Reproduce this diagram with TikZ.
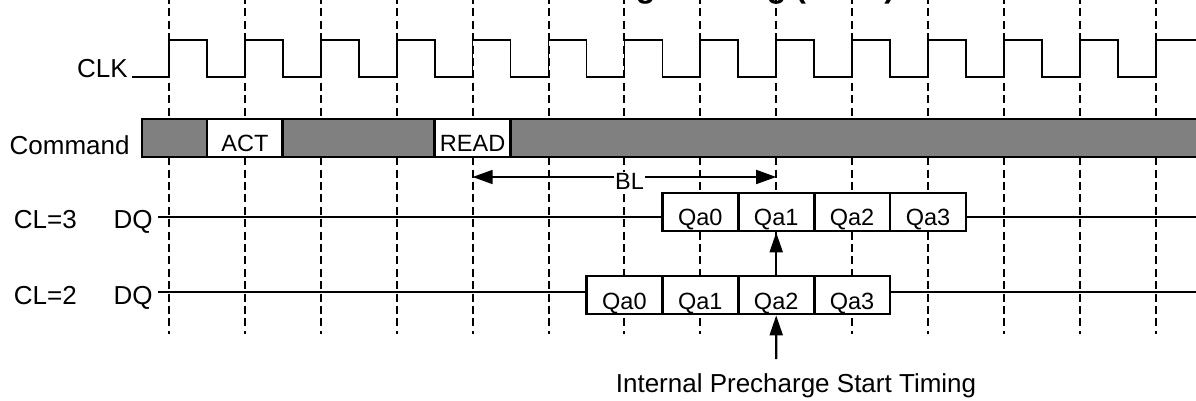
\documentclass[tikz,border=0pt]{standalone}
\usepackage{fontspec}
\setmainfont{Liberation Sans}
\usepackage{tikz}
\usetikzlibrary{arrows.meta, positioning, calc}
\definecolor{cmdgray}{RGB}{128, 128, 128}
\newcommand{\sigfont}{\fontsize{13}{15}\selectfont}
\newcommand{\boxfont}{\fontsize{11.75}{14}\selectfont}
\newcommand{\ttlfont}{\fontsize{16}{19}\selectfont\bfseries}

\begin{document}
\begin{tikzpicture}[
    x=0.5pt, y=-0.5pt,
    guide/.style={line width=1pt, dash pattern=on 4pt off 2.2pt},
    wave/.style={line width=0.85pt},
    busline/.style={line width=1pt},
    slot/.style={rectangle, draw, line width=1.4pt, fill=white, minimum width=37.95pt,
      minimum height=19pt, inner xsep=0pt, inner ysep=1pt, text height=15.5pt,
      text depth=1.5pt, font=\boxfont},
    sigtext/.style={inner sep=0pt, font=\sigfont},
    pointer/.style={-{Triangle[length=10pt, width=6.5pt]}, line width=1.1pt},
    spanline/.style={{Triangle[length=10pt, width=7pt]}-{Triangle[length=10pt, width=7pt]},
      line width=0.8pt}
  ]
    \useasboundingbox (0,0) rectangle (1196,401);
    \node[sigtext, font=\ttlfont, anchor=base] (title) at (665,-2) {Auto Precharge Timing (Read)};

    \foreach \k in {0,...,13}
      \draw[guide] ({169+75.9*\k},-4) -- ({169+75.9*\k},334);

    \node[sigtext, anchor=base east] (clk) at (128,78) {CLK};
    \node[sigtext, anchor=base east] (cmd) at (130,155) {Command};
    \node[sigtext, anchor=base east] (dq3) at (153,229) {DQ};
    \node[sigtext, base left=18pt of dq3.base west] (cl3) {CL=3};
    \node[sigtext, anchor=base east] (dq2) at (153,305) {DQ};
    \node[sigtext, base left=18pt of dq2.base west] (cl2) {CL=2};

    \draw[wave] (132,77) -- (169,77)
      \foreach \k in {0,...,12} { -- ++(0,-37) -- ++(37.95,0) -- ++(0,37) -- ++(37.95,0) }
      -- ++(0,-37) -- (1200,40);

    \draw[line width=1.4pt, fill=cmdgray] (142,119) rectangle (1210,157);
    \node[slot] (act) at (244.9,138) {ACT};
    \node[slot] (rd) at (472.6,138) {READ};

    \coordinate (dq3s) at (158,217);
    \coordinate (dq3e) at (1200,217);
    \coordinate (dq2s) at (158,292);
    \coordinate (dq2e) at (1200,292);
    \draw[busline] (dq3s) -- (dq3e);
    \draw[busline] (dq2s) -- (dq2e);
    \foreach \i in {0,...,3} {
      \node[slot] (d3q\i) at ({169+75.9*(7+\i)},212) {Qa\i};
      \node[slot] (d2q\i) at ({169+75.9*(6+\i)},295) {Qa\i};
    }

    \draw[pointer] (d2q2.north) -- (d3q1.south);
    \node[sigtext, anchor=base] (ipst) at (796,393) {Internal Precharge Start Timing};
    \coordinate (ipsttop) at (776.2,359);
    \draw[pointer] (ipsttop) -- (d2q2.south);

    \coordinate (blL) at (472.6,177);
    \coordinate (blR) at (776.2,177);
    \draw[spanline] (blL) -- (blR);
    \node[sigtext, fill=white, inner xsep=0.5pt, inner ysep=1pt, font=\boxfont, anchor=base]
      (bl) at (629.5,190) {BL};
  \end{tikzpicture}
\end{document}
